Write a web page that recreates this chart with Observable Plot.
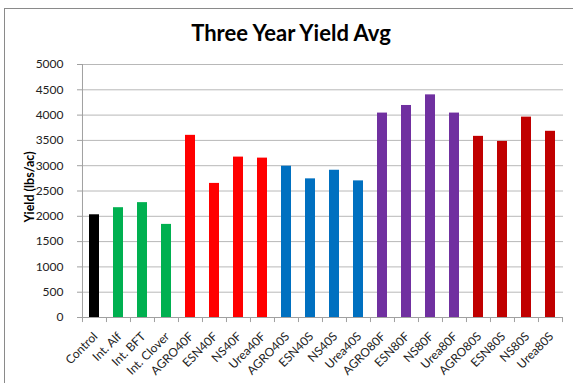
<!DOCTYPE html>
<html>
<head>
<meta charset="utf-8">
<script src="https://cdn.jsdelivr.net/npm/d3@7"></script>
<script src="https://cdn.jsdelivr.net/npm/@observablehq/plot@0.6"></script>
<style>
  html, body { margin: 0; padding: 0; background: #fff; }
  #wrap { position: relative; width: 573px; height: 383px; overflow: hidden; font-family: Lato, "Open Sans", sans-serif; }
  #frame { position: absolute; left: 4px; top: 8px; width: 600px; height: 400px; border-top: 1px solid #8a8a8a; border-left: 1px solid #8a8a8a; box-sizing: border-box; }
  #title { position: absolute; left: 0; width: 582px; top: 19px; text-align: center; font-size: 22px; font-weight: bold; color: #000; }
  #ylabel { position: absolute; left: 29px; top: 187px; transform: translate(-50%, -50%) rotate(-90deg); white-space: nowrap; font-size: 12.5px; font-weight: bold; color: #000; }
  #chart { position: absolute; left: 0; top: 0; }
</style>
</head>
<body>
<div id="wrap">
  <div id="chart"></div>
  <div id="frame"></div>
  <div id="title">Three Year Yield Avg</div>
  <div id="ylabel"></div>
</div>
<script>
const categories = ["Control","Int. Alf","Int. BFT","Int. Clover","AGRO40F","ESN40F","NS40F","Urea40F","AGRO40S","ESN40S","NS40S","Urea40S","AGRO80F","ESN80F","NS80F","Urea80F","AGRO80S","ESN80S","NS80S","Urea80S"];
const yields = [2030, 2170, 2270, 1840, 3600, 2650, 3170, 3150, 2990, 2740, 2910, 2700, 4040, 4190, 4400, 4040, 3580, 3480, 3960, 3680];
const groups = ["Control","Intercrop","Intercrop","Intercrop","40F","40F","40F","40F","40S","40S","40S","40S","80F","80F","80F","80F","80S","80S","80S","80S"];
const groupNames = ["Control","Intercrop","40F","40S","80F","80S"];
const groupColors = ["#000000","#00B050","#FF0000","#0070C0","#7030A0","#C00000"];
const yTicks = [0,500,1000,1500,2000,2500,3000,3500,4000,4500,5000];
const yLabel = "Yield (lbs/ac)";

document.getElementById("ylabel").textContent = yLabel;

const data = categories.map((c, i) => ({category: c, yield: yields[i], group: groups[i]}));

const width = 573, height = 383;
const mL = 82, mR = 10, mT = 64, mB = 66;
const step = (width - mL - mR) / categories.length;

const chart = Plot.plot({
  width, height,
  marginLeft: mL, marginRight: mR, marginTop: mT, marginBottom: mB,
  style: {fontFamily: "Lato, 'Open Sans', sans-serif", fontSize: "12px", color: "#222", background: "transparent"},
  x: {domain: categories, paddingInner: 0.58, paddingOuter: 0.29, axis: null},
  y: {domain: [0, 5000], ticks: yTicks, label: null},
  color: {domain: groupNames, range: groupColors},
  marks: [
    Plot.gridY(yTicks, {stroke: "#b8b8b8", strokeOpacity: 1}),
    Plot.axisY(yTicks, {tickSize: 5, tickPadding: 14, stroke: "#a0a0a0", fontSize: 12, fill: "#222", label: null, tickFormat: d => String(d)}),
    Plot.barY(data, {x: "category", y: "yield", fill: "group"}),
    Plot.ruleY([0], {stroke: "#a0a0a0"}),
    Plot.ruleX(categories, {x: d => d, y1: 0, y2: -100, dx: -step / 2, stroke: "#a0a0a0"}),
    Plot.ruleX([categories[categories.length - 1]], {x: d => d, y1: 0, y2: -100, dx: step / 2, stroke: "#a0a0a0"}),
    Plot.ruleX([categories[0]], {x: d => d, y1: 0, y2: 5000, dx: -step / 2, stroke: "#a0a0a0"}),
    Plot.text(categories, {x: d => d, y: 0, text: d => d, rotate: -45, textAnchor: "end", lineAnchor: "middle", dx: 1, dy: 17, fontSize: 12, fill: "#222"})
  ]
});
document.getElementById("chart").appendChild(chart);
</script>
</body>
</html>
